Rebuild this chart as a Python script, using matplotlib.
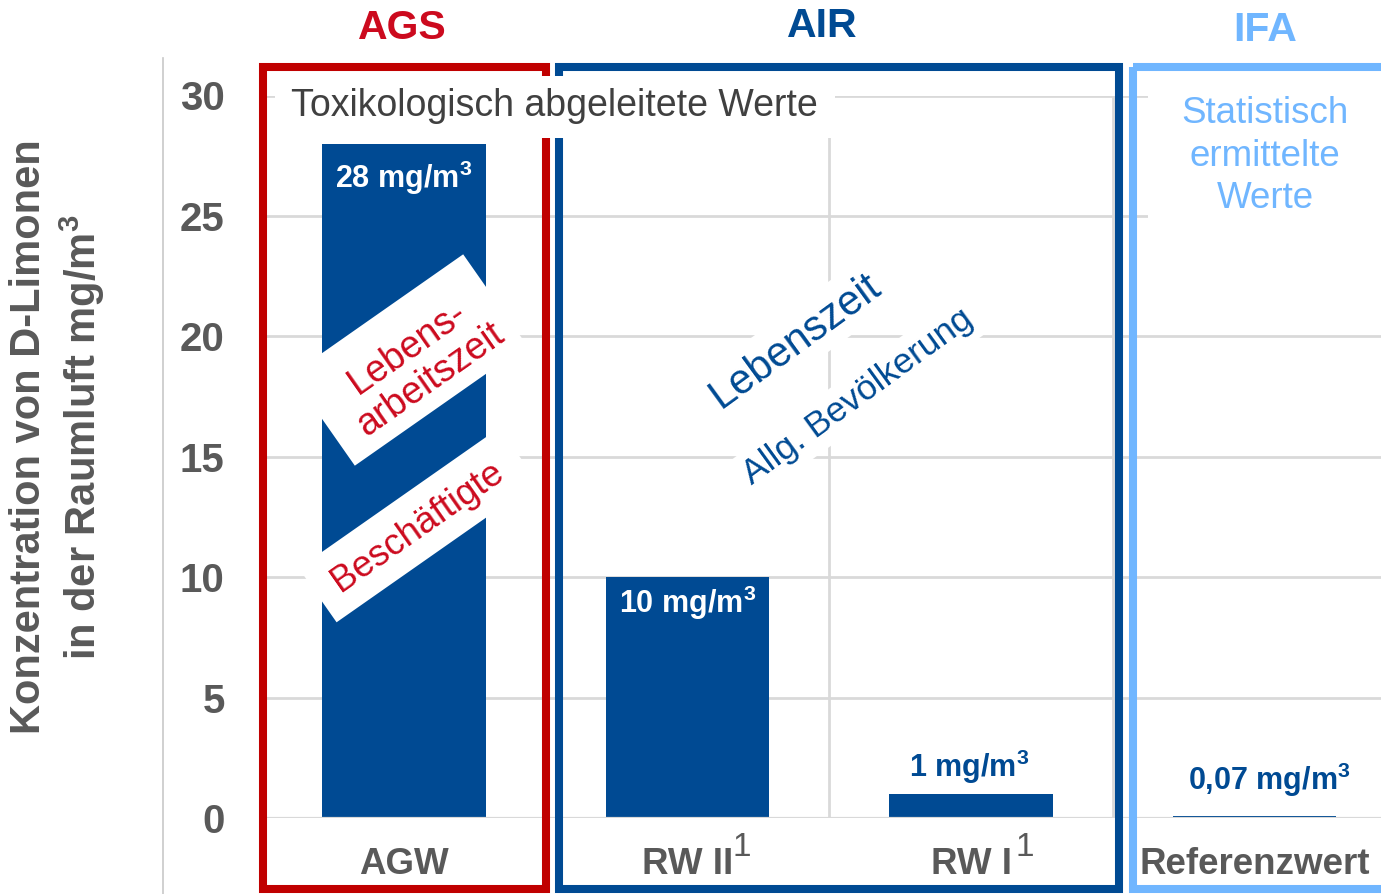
import matplotlib
matplotlib.use('Agg')
import matplotlib.pyplot as plt
from matplotlib.patches import Rectangle
from matplotlib.lines import Line2D
from matplotlib.transforms import Affine2D

plt.rcParams['font.family'] = ['Liberation Sans', 'DejaVu Sans']
plt.rcParams['mathtext.fontset'] = 'custom'
plt.rcParams['mathtext.rm'] = 'Liberation Sans'
plt.rcParams['mathtext.bf'] = 'Liberation Sans:bold'

# ---- data ----
categories = ['AGW', 'RW II', 'RW I', 'Referenzwert']
values = [28, 10, 1, 0.07]
value_labels = [r'28 mg/m$^\mathbf{3}$', r'10 mg/m$^\mathbf{3}$', r'1 mg/m$^\mathbf{3}$',
                r'0,07 mg/m$^\mathbf{3}$']
footnotes = ['', '1', '1', '']
yticks = [0, 5, 10, 15, 20, 25, 30]
groups = ['AGS', 'AIR', 'IFA']
y_label = 'Konzentration von D-Limonen\n' + r'in der Raumluft mg/m$^\mathbf{3}$'

# ---- style ----
W, H, DPI = 1381, 894, 100
NAVY = '#004A93'
RED = '#C00000'
RED_TXT = '#CC0A1E'
LIGHT = '#70B6FF'
GRAY = '#595959'
GRID = '#D9D9D9'

fig = plt.figure(figsize=(W / DPI, H / DPI), dpi=DPI)
fig.patch.set_facecolor('white')
# pixel coordinates (x right, y down) -> display
PX = Affine2D().scale(1, -1).translate(0, H)

ax = fig.add_axes([262.25 / W, (H - 818) / H, (W - 262.25) / W, (818 - 95.5) / H])
x = list(range(len(categories)))
ax.bar(x, values, width=0.578, color=NAVY, zorder=3)
ax.axhline(0, color=GRID, lw=2.3, zorder=4)
ax.set_xlim(-0.5, 3.446)
ax.set_ylim(0, 30)
ax.set_yticks(yticks)
ax.set_yticklabels([str(t) for t in yticks], fontsize=29, fontweight='bold', color=GRAY)
ax.set_xticks(x)
ax.set_xticklabels(categories, fontsize=26.5, fontweight='bold', color=GRAY)
ax.set_xticks([0.5, 1.5, 2.5], minor=True)
ax.tick_params(axis='both', which='both', length=0)
ax.tick_params(axis='y', pad=27)
ax.tick_params(axis='x', pad=21)
ax.yaxis.grid(True, color=GRID, lw=2, zorder=0)
ax.xaxis.grid(True, which='minor', color=GRID, lw=2, zorder=0)
ax.set_axisbelow(True)
for s in ax.spines.values():
    s.set_visible(False)

# value labels
offsets = [(0, -34), (0, -26), (-2, 27), (15, 36)]
colors = ['white', 'white', NAVY, NAVY]
for i, (v, lab) in enumerate(zip(values, value_labels)):
    ax.annotate(lab, xy=(i, v), xytext=offsets[i], textcoords='offset pixels',
                ha='center', va='center', fontsize=22, fontweight='bold',
                color=colors[i], zorder=5)
# footnote superscripts
for i, fn in enumerate(footnotes):
    if fn:
        ax.annotate(fn, xy=(i, 0), xytext=(54, -29), textcoords='offset pixels',
                    ha='center', va='center', fontsize=24, color=GRAY,
                    annotation_clip=False)

# left thin vertical line
fig.add_artist(Line2D([163, 163], [58, 894], transform=PX, color='#C8C8C8', lw=1.2, zorder=1))

# group frames
def frame(x0, x1, color):
    fig.add_artist(Rectangle((x0, 67), x1 - x0, 889 - 67, transform=PX, fill=False,
                             ec=color, lw=5.8, zorder=1, joinstyle='miter'))
frame(263, 546, RED)
frame(559, 1119, NAVY)
frame(1133, 1400, LIGHT)

# group titles
for name, (gx, gy), c in zip(groups, [(402, 28), (822, 26), (1265, 30)], [RED_TXT, NAVY, LIGHT]):
    fig.text(gx, gy, name, transform=PX, ha='center', va='center', fontsize=29.5,
             fontweight='bold', color=c, zorder=4)

# white boxes with texts
fig.add_artist(Rectangle((275, 76), 560, 62, transform=PX, fc='white', ec='none', zorder=2))
fig.text(554, 106, 'Toxikologisch abgeleitete Werte', transform=PX, ha='center', va='center',
         fontsize=27, color='#404040', zorder=4)

fig.add_artist(Rectangle((1148, 78), 250, 150, transform=PX, fc='white', ec='none', zorder=2))
fig.text(1265, 156, 'Statistisch\nermittelte\nWerte', transform=PX, ha='center', va='center',
         fontsize=26.5, color=LIGHT, linespacing=1.27, multialignment='center', zorder=4)

# rotated bands on AGW bar
def band(cx, cy, w, h, ang):
    fig.add_artist(Rectangle((cx - w / 2, cy - h / 2), w, h, angle=-ang, rotation_point='center',
                             transform=PX, fc='white', ec='none', zorder=2))
band(409, 360, 210, 111, 35)
band(418, 525, 245, 66, 35)
fig.text(419, 364, 'Lebens-\narbeitszeit', transform=PX, ha='center', va='center',
         rotation=35, rotation_mode='anchor', fontsize=27, color=RED_TXT,
         linespacing=1.12, multialignment='center', zorder=4)
fig.text(418, 527, 'Beschäftigte', transform=PX, ha='center', va='center',
         rotation=35, rotation_mode='anchor', fontsize=26.5, color=RED_TXT, zorder=4)

# AIR rotated texts
fig.text(795, 341, 'Lebenszeit', transform=PX, ha='center', va='center',
         rotation=36, rotation_mode='anchor', fontsize=30, color=NAVY, zorder=4,
         bbox=dict(fc='white', ec='none', boxstyle='square,pad=0.2'))
fig.text(858, 397, 'Allg. Bevölkerung', transform=PX, ha='center', va='center',
         rotation=36, rotation_mode='anchor', fontsize=25.5, color=NAVY, zorder=4,
         bbox=dict(fc='white', ec='none', boxstyle='square,pad=0.2'))

# y label
fig.text(58, 437, y_label, transform=PX, ha='center', va='center', rotation=90,
         fontsize=30, fontweight='bold', color=GRAY, linespacing=1.22,
         multialignment='center', zorder=4)

fig.savefig('out.png', dpi=DPI, facecolor='white')
